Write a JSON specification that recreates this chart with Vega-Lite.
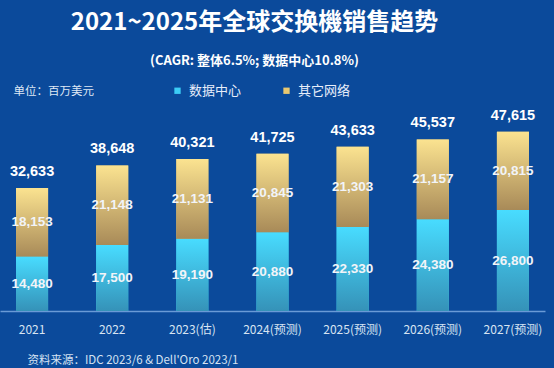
{
  "$schema": "https://vega.github.io/schema/vega-lite/v6.json",
  "width": 545,
  "height": 226,
  "autosize": {"type": "none"},
  "padding": {"left": 0, "top": 85, "right": 9, "bottom": 57},
  "background": "#0b4a9b",
  "config": {"view": {"stroke": null}, "font": "Noto Sans CJK SC"},
  "title": {
    "text": "2021~2025年全球交换機销售趋势",
    "subtitle": "(CAGR: 整体6.5%; 数据中心10.8%)",
    "fontSize": 24,
    "fontWeight": "bold",
    "color": "#ffffff",
    "subtitleFontSize": 13,
    "subtitleFontWeight": "bold",
    "subtitleColor": "#ffffff",
    "subtitlePadding": 20,
    "anchor": "middle",
    "dx": -18,
    "offset": 16
  },
  "data": {
    "values": [
      {"year": "2021", "series": "数据中心", "order": 1, "value": 14480},
      {"year": "2021", "series": "其它网络", "order": 2, "value": 18153},
      {"year": "2022", "series": "数据中心", "order": 1, "value": 17500},
      {"year": "2022", "series": "其它网络", "order": 2, "value": 21148},
      {"year": "2023(估)", "series": "数据中心", "order": 1, "value": 19190},
      {"year": "2023(估)", "series": "其它网络", "order": 2, "value": 21131},
      {"year": "2024(预测)", "series": "数据中心", "order": 1, "value": 20880},
      {"year": "2024(预测)", "series": "其它网络", "order": 2, "value": 20845},
      {"year": "2025(预测)", "series": "数据中心", "order": 1, "value": 22330},
      {"year": "2025(预测)", "series": "其它网络", "order": 2, "value": 21303},
      {"year": "2026(预测)", "series": "数据中心", "order": 1, "value": 24380},
      {"year": "2026(预测)", "series": "其它网络", "order": 2, "value": 21157},
      {"year": "2027(预测)", "series": "数据中心", "order": 1, "value": 26800},
      {"year": "2027(预测)", "series": "其它网络", "order": 2, "value": 20815}
    ]
  },
  "transform": [
    {"stack": "value", "groupby": ["year"], "sort": [{"field": "order"}], "as": ["v0", "v1"]},
    {"calculate": "(datum.v0 + datum.v1) / 2", "as": "mid"}
  ],
  "encoding": {
    "x": {
      "field": "year",
      "type": "nominal",
      "sort": ["2021", "2022", "2023(估)", "2024(预测)", "2025(预测)", "2026(预测)", "2027(预测)"],
      "scale": {"paddingInner": 0.6, "paddingOuter": 0.2},
      "axis": {
        "title": "资料来源：IDC 2023/6 & Dell'Oro 2023/1",
        "titleX": 27,
        "titleY": 49,
        "titleAlign": "left",
        "titleBaseline": "middle",
        "titleFontSize": 11.5,
        "titleFontWeight": "normal",
        "titleColor": "#d5e2f2",
        "labelAngle": 0,
        "labelColor": "#d8e4f2",
        "labelFontSize": 12,
        "labelPadding": 13,
        "ticks": false,
        "domainColor": "#6a9ad6",
        "domainWidth": 1.5
      }
    }
  },
  "layer": [
    {
      "mark": {"type": "bar"},
      "encoding": {
        "y": {
          "field": "v0",
          "type": "quantitative",
          "scale": {"domain": [0, 60000]},
          "axis": {
            "title": "单位：百万美元",
            "titleAngle": 0,
            "titleX": 13,
            "titleY": 6,
            "titleAlign": "left",
            "titleBaseline": "middle",
            "titleFontSize": 11.5,
            "titleFontWeight": "normal",
            "titleColor": "#dfe8f5",
            "labels": false,
            "ticks": false,
            "domain": false,
            "grid": false
          }
        },
        "y2": {"field": "v1"},
        "color": {
          "field": "series",
          "type": "nominal",
          "scale": {"domain": ["数据中心", "其它网络"], "range": ["#3ccdf5", "#e9c870"]},
          "legend": {
            "orient": "none",
            "legendX": 171,
            "legendY": -1,
            "direction": "horizontal",
            "title": null,
            "symbolType": "square",
            "symbolSize": 40,
            "symbolStrokeWidth": 0,
            "labelFontSize": 13,
            "labelColor": "#e8eefa",
            "labelOffset": 5,
            "columnPadding": 38
          }
        }
      }
    },
    {
      "transform": [{"filter": "datum.series === '数据中心'"}],
      "mark": {
        "type": "bar",
        "color": {
          "gradient": "linear", "x1": 0, "y1": 0, "x2": 0, "y2": 1,
          "stops": [{"offset": 0, "color": "#48dcff"}, {"offset": 1, "color": "#3592b8"}]
        }
      },
      "encoding": {
        "y": {"field": "v0", "type": "quantitative"},
        "y2": {"field": "v1"}
      }
    },
    {
      "transform": [{"filter": "datum.series === '其它网络'"}],
      "mark": {
        "type": "bar",
        "color": {
          "gradient": "linear", "x1": 0, "y1": 0, "x2": 0, "y2": 1,
          "stops": [{"offset": 0, "color": "#fbe390"}, {"offset": 1, "color": "#a88a58"}]
        }
      },
      "encoding": {
        "y": {"field": "v0", "type": "quantitative"},
        "y2": {"field": "v1"}
      }
    },
    {
      "mark": {"type": "text", "font": "Liberation Sans", "fontSize": 13.5, "fontWeight": "bold", "color": "#f2f4f8", "baseline": "middle"},
      "encoding": {
        "y": {"field": "mid", "type": "quantitative"},
        "text": {"field": "value", "type": "quantitative", "format": ","}
      }
    },
    {
      "transform": [{"filter": "datum.series === '其它网络'"}],
      "mark": {"type": "text", "font": "Liberation Sans", "fontSize": 14.5, "fontWeight": "bold", "color": "#ffffff", "baseline": "middle", "dy": -16},
      "encoding": {
        "y": {"field": "v1", "type": "quantitative"},
        "text": {"field": "v1", "type": "quantitative", "format": ","}
      }
    }
  ]
}
